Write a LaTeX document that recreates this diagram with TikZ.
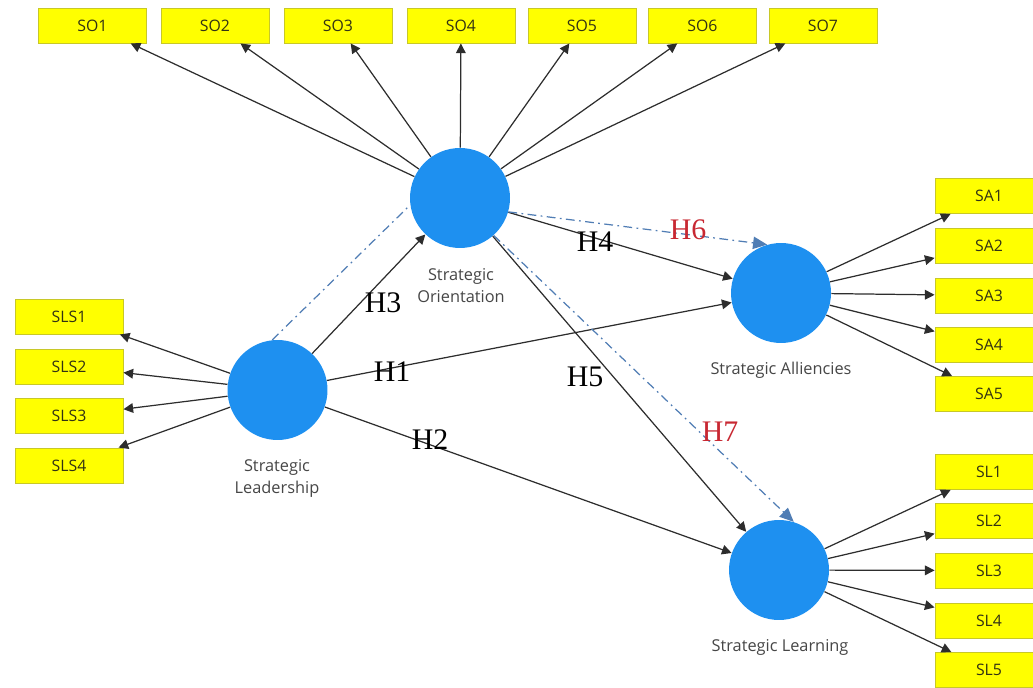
\documentclass[tikz,border=0pt]{standalone}
\usepackage{fontspec}
\setmainfont{Liberation Serif}
\newfontfamily\lblfont{Open Sans}
\usetikzlibrary{arrows.meta}
\definecolor{lv}{RGB}{30,144,240}
\definecolor{boxy}{RGB}{255,255,0}
\definecolor{boxedge}{RGB}{200,200,40}
\definecolor{ddc}{RGB}{80,125,180}
\definecolor{hred}{RGB}{200,40,50}
\definecolor{ln}{RGB}{45,45,45}
\definecolor{lbl}{RGB}{70,70,70}
\definecolor{boxtxt}{RGB}{50,50,20}
\tikzset{
  ind/.style={draw=boxedge, fill=boxy, line width=0.5pt, minimum width=2.16cm, minimum height=0.7cm, inner sep=0pt, font=\lblfont\fontsize{9}{10}\selectfont, text=boxtxt},
  lat/.style={circle, fill=lv, minimum size=2cm, inner sep=0pt},
  latlabel/.style={font=\lblfont\fontsize{9.3}{12.5}\selectfont, text=lbl, align=center},
  load/.style={draw=ln, line width=0.7pt, -{Triangle[length=5.5pt,width=5.5pt]}},
  ddash/.style={draw=ddc, line width=0.7pt, dash pattern=on 5pt off 2.5pt on 1pt off 2.5pt},
  ddarrow/.style={ddash, -{Triangle[length=8pt,width=7pt]}},
  hyp/.style={font=\fontsize{17}{17}\selectfont, inner sep=0pt},
}
\begin{document}
\begin{tikzpicture}[x=0.02cm,y=-0.02cm]
\useasboundingbox (0,0) rectangle (1033,688);
\begin{scope}
\clip (0,0) rectangle (1033,688);
% indicators
\node[ind] (so1) at (92.5,25.5) {SO1};
\node[ind] (so2) at (215,25.5) {SO2};
\node[ind] (so3) at (338,25.5) {SO3};
\node[ind] (so4) at (461,25.5) {SO4};
\node[ind] (so5) at (582,25.5) {SO5};
\node[ind] (so6) at (702.5,25.5) {SO6};
\node[ind] (so7) at (823,25.5) {SO7};
\node[ind] (sls1) at (69,316.5) {SLS1};
\node[ind] (sls2) at (69,366.5) {SLS2};
\node[ind] (sls3) at (69,416) {SLS3};
\node[ind] (sls4) at (69,465.5) {SLS4};
\node[ind] (sa1) at (989,196) {SA1};
\node[ind] (sa2) at (989,245.5) {SA2};
\node[ind] (sa3) at (989,295.5) {SA3};
\node[ind] (sa4) at (989,345) {SA4};
\node[ind] (sa5) at (989,394) {SA5};
\node[ind] (sl1) at (989,472) {SL1};
\node[ind] (sl2) at (989,521) {SL2};
\node[ind] (sl3) at (989,570.5) {SL3};
\node[ind] (sl4) at (989,620.5) {SL4};
\node[ind] (sl5) at (989,670) {SL5};
% latent variables
\node[lat] (SLd) at (277.5,390) {};
\node[lat] (SO) at (460,198) {};
\node[lat] (SA) at (781,293) {};
\node[lat] (SLe) at (779,570) {};
\node[latlabel] (ldl) at (277,478) {Strategic\\Leadership};
\node[latlabel] (sol) at (461,286) {Strategic\\Orientation};
\node[latlabel] (sal) at (781,370) {Strategic Alliencies};
\node[latlabel] (sll) at (780,647) {Strategic Learning};
% loadings
\foreach \i in {1,...,7} \draw[load] (SO) -- (so\i);
\foreach \i in {1,...,4} \draw[load] (SLd) -- (sls\i);
\foreach \i in {1,...,5} \draw[load] (SA) -- (sa\i);
\foreach \i in {1,...,5} \draw[load] (SLe) -- (sl\i);
% structural paths
\draw[load] (SLd) -- (SO);
\draw[load] (SLd) -- (SA);
\draw[load] (SLd) -- (SLe);
\draw[load] (SO) -- (SA);
\draw[load] (SO) -- (SLe);
\draw[ddash] (SLd.96) -- (SO.188);
\draw[ddarrow] (SO.-16) -- (SA.106);
\draw[ddarrow] (SO.-48) -- (SLe.73);
% hypothesis labels
\node[hyp] (h1) at (392,372) {H1};
\node[hyp] (h2) at (430,440) {H2};
\node[hyp] (h3) at (383,303) {H3};
\node[hyp] (h4) at (595,242) {H4};
\node[hyp] (h5) at (585,377) {H5};
\node[hyp, text=hred] (h6) at (688,230) {H6};
\node[hyp, text=hred] (h7) at (720,432) {H7};
\end{scope}
\end{tikzpicture}
\end{document}
